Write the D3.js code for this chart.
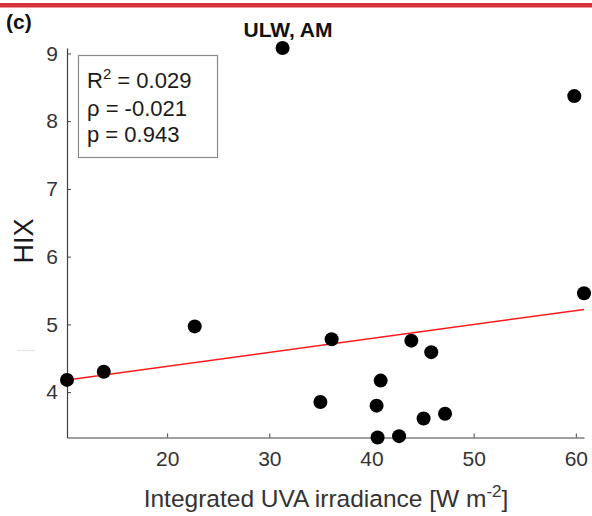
<!DOCTYPE html>
<html>
<head>
<meta charset="utf-8">
<script src="https://cdn.jsdelivr.net/npm/d3@7"></script>
<style>
  html, body { margin: 0; padding: 0; background: #fff; }
  svg { display: block; }
  text { font-family: "Liberation Sans", Arial, Helvetica, sans-serif; }
</style>
</head>
<body>
<svg id="chart" width="592" height="516"></svg>
<script>
// ---- data ----
const uva = [10.2, 13.8, 22.7, 31.3, 36.1, 43.9, 45.85, 40.9, 35.0, 40.5, 47.2, 45.1, 40.6, 42.7, 59.85, 60.8];
const hix = [4.18, 4.30, 4.97, 9.08, 4.78, 4.76, 4.59, 4.17, 3.855, 3.80, 3.68, 3.61, 3.33, 3.35, 8.37, 5.46];
const fitX = [10.2, 60.8];
const fitY = [4.18, 5.22];
const xTicks = [20, 30, 40, 50, 60];
const yTicks = [4, 5, 6, 7, 8, 9];
const statsLines = ["R2", "ρ = -0.021", "p = 0.943"];
const title = "ULW, AM";
const panel = "(c)";

const svg = d3.select("#chart");
const W = 592, H = 516;
const m = { left: 67, right: 8, top: 48, bottom: 78.5 };
const axisColor = "#404040";

// top red band
svg.append("rect").attr("x", 0).attr("y", 3).attr("width", W).attr("height", 4.5).attr("fill", "#d5333b");

const x = d3.scaleLinear().domain(d3.extent(uva)).range([m.left, W - m.right]);
const y = d3.scaleLinear().domain(d3.extent(hix)).range([H - m.bottom, m.top]);

// axes (ticks pointing inward)
const xAxis = d3.axisBottom(x).tickValues(xTicks).tickFormat(d3.format("d")).tickSizeInner(-4).tickSizeOuter(0).tickPadding(14);
const yAxis = d3.axisLeft(y).tickValues(yTicks).tickFormat(d3.format("d")).tickSizeInner(-4).tickSizeOuter(0).tickPadding(9);

const gx = svg.append("g").attr("transform", `translate(0,${H - m.bottom})`).call(xAxis);
const gy = svg.append("g").attr("transform", `translate(${m.left},0)`).call(yAxis);
[gx, gy].forEach(g => {
  g.attr("font-size", null).attr("font-family", null);
  g.select(".domain").attr("stroke", axisColor).attr("stroke-width", 1.2);
  g.selectAll(".tick line").attr("stroke", axisColor).attr("stroke-width", 1);
  g.selectAll(".tick text").attr("fill", "#333").style("font-size", "21px");
});
gx.selectAll(".tick text").attr("dy", "0.71em");

// faint artifact line left of the axis
svg.append("line").attr("x1", 17).attr("x2", 35).attr("y1", 350.5).attr("y2", 350.5)
  .attr("stroke", "#e4e4e4").attr("stroke-width", 1.2);

// fit line
svg.append("line")
  .attr("x1", x(fitX[0])).attr("y1", y(fitY[0]))
  .attr("x2", x(fitX[1])).attr("y2", y(fitY[1]))
  .attr("stroke", "#ff1a1a").attr("stroke-width", 1.5);

// points
svg.append("g").selectAll("circle").data(uva.map((d, i) => [d, hix[i]])).join("circle")
  .attr("cx", d => x(d[0])).attr("cy", d => y(d[1])).attr("r", 7).attr("fill", "#000");

// stats box
svg.append("rect").attr("x", 78.5).attr("y", 55.5).attr("width", 139).attr("height", 102)
  .attr("fill", "#fff").attr("stroke", "#8a8a8a").attr("stroke-width", 1.2);
const st = svg.append("g").attr("fill", "#1a1a1a").style("font-size", "22px");
const r2 = st.append("text").attr("x", 87).attr("y", 88);
r2.append("tspan").text("R");
r2.append("tspan").attr("dy", -9).style("font-size", "15px").text("2");
r2.append("tspan").attr("dy", 9).text(" = 0.029");
st.append("text").attr("x", 87).attr("y", 116).text(statsLines[1]);
st.append("text").attr("x", 87).attr("y", 142).text(statsLines[2]);

// title & panel label
svg.append("text").attr("x", 288).attr("y", 37).attr("text-anchor", "middle")
  .style("font-size", "21px").style("font-weight", "bold").attr("fill", "#111").text(title);
svg.append("text").attr("x", 6).attr("y", 29)
  .style("font-size", "21px").style("font-weight", "bold").attr("fill", "#111").text(panel);

// axis labels
const xl = svg.append("text").attr("x", 326).attr("y", 507).attr("text-anchor", "middle")
  .attr("fill", "#333").style("font-size", "24.5px");
xl.append("tspan").text("Integrated UVA irradiance [W m");
xl.append("tspan").attr("dy", -10).style("font-size", "17px").text("-2");
xl.append("tspan").attr("dy", 10).text("]");

svg.append("text").attr("transform", "translate(33,241) rotate(-90)").attr("text-anchor", "middle")
  .attr("fill", "#1a1a1a").style("font-size", "27px").text("HIX");
</script>
</body>
</html>
